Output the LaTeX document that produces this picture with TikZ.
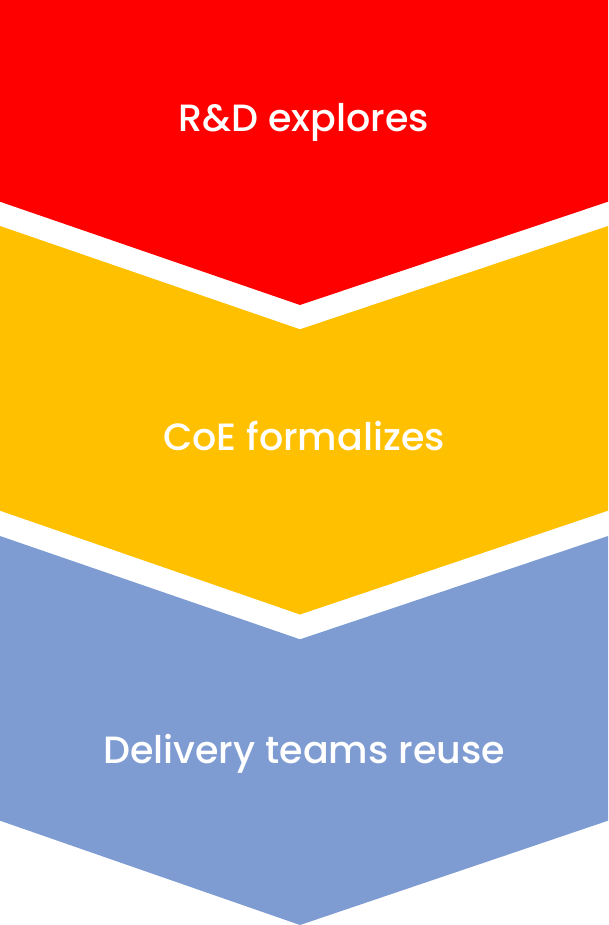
\documentclass[tikz,border=0pt]{standalone}
\usepackage{fontspec}
\setmainfont{Poppins Medium}
\definecolor{cred}{HTML}{FF0000}
\definecolor{cyel}{HTML}{FFC000}
\definecolor{cblu}{HTML}{7F9CD2}
\begin{document}
\begin{tikzpicture}[x=1pt,y=-1pt,
  lab/.style={text=white,font=\fontsize{38}{40}\selectfont,anchor=base,inner sep=0pt}]
\useasboundingbox (0,0) rectangle (608,925);
\fill[cred] (0,0) -- (608,0) -- (608,201.7) -- (300,305) -- (0,201.7) -- cycle;
\fill[cyel] (0,226) -- (300,329.3) -- (608,226) -- (608,510.7) -- (300,614.5) -- (0,510.7) -- cycle;
\fill[cblu] (0,536) -- (300,639.3) -- (608,536) -- (608,820.7) -- (300,925) -- (0,820.7) -- cycle;
\node[lab] (t1) at (304,132) {R\&D explores};
\node[lab] (t2) at (304,450) {CoE formalizes};
\node[lab] (t3) at (304,763) {Delivery teams reuse};
\end{tikzpicture}
\end{document}
